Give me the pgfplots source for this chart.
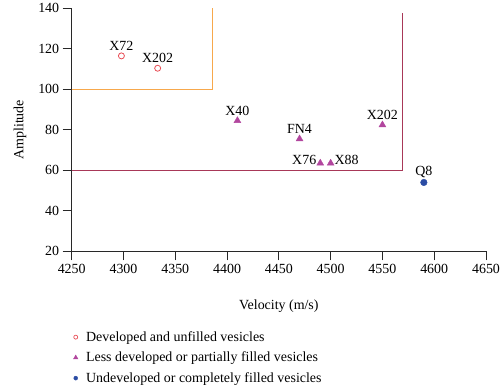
\documentclass[border=0pt]{standalone}
\usepackage{pgfplots}
\pgfplotsset{compat=1.18}
\usepackage{fontspec}
\setmainfont{Liberation Serif}
\definecolor{cred}{RGB}{232,76,84}
\definecolor{corange}{RGB}{247,168,76}
\definecolor{cmag}{RGB}{178,70,158}
\definecolor{cmaroon}{RGB}{168,56,88}
\definecolor{cblue}{RGB}{43,76,164}
\definecolor{caxis}{RGB}{40,40,40}
\begin{document}
\begin{tikzpicture}[font=\fontsize{14}{16.8}\selectfont]
\path[use as bounding box] (-71.7bp,-136.7bp) rectangle (428.3bp,251.3bp);
\begin{axis}[
  at={(0,0)}, anchor=south west,
  scale only axis, width=414.3bp, height=243bp,
  xmin=4250, xmax=4650, ymin=20, ymax=140,
  xtick={4250,4300,...,4650}, ytick={20,40,...,140},
  axis x line=bottom, axis y line=left,
  axis line style={-, line width=0.8bp, color=caxis},
  tick style={line width=0.8bp, color=caxis},
  tick align=outside, major tick length=9bp,
  /pgf/number format/assume math mode=true,
  /pgf/number format/1000 sep={},
  xlabel={Velocity (m/s)}, ylabel={Amplitude},
  xlabel style={at={(axis description cs:0.5,-0.2239)}, anchor=center},
  ylabel style={at={(axis description cs:-0.1248,0.5)}, anchor=center},
  clip=false,
  legend style={at={(axis description cs:0,0)}, anchor=north west, yshift=-76bp, xshift=-2.5bp,
    draw=none, fill=none, row sep=5.2bp, font=\fontsize{14}{16.8}\selectfont},
  legend cell align=left,
  legend image code/.code={\draw[#1] plot coordinates {(0bp,0bp)}; \path (-3bp,0bp) (8bp,0bp);},
]
\addplot[corange, line width=0.9bp, forget plot] coordinates {(4250,100) (4385.5,100) (4385.5,140)};
\addplot[cmaroon, line width=0.9bp, forget plot] coordinates {(4250,60) (4569.5,60) (4569.5,137.8)};
\addplot[forget plot, only marks, mark=o, mark size=3bp, cred, line width=0.8bp,
  nodes near coords, point meta=explicit symbolic,
  every node near coord/.append style={anchor=south, yshift=1.5bp, text=black}]
  table[meta=label] {
x y label
4298 116.5 X72
4333 110.4 X202
};
\addplot[forget plot, only marks, mark=triangle*, mark size=4bp, cmag,
  nodes near coords, point meta=explicit symbolic,
  every node near coord/.append style={anchor=south, yshift=1.5bp, text=black}]
  table[meta=label] {
x y label
4410 84.5 X40
4470 75.5 FN4
4550 82.4 X202
};
\addplot[forget plot, only marks, mark=triangle*, mark size=4bp, cmag,
  nodes near coords, point meta=explicit symbolic,
  every node near coord/.append style={anchor=east, yshift=3bp, xshift=-0.5bp, text=black}]
  table[meta=label] {
x y label
4490 63.5 X76
};
\addplot[forget plot, only marks, mark=triangle*, mark size=4bp, cmag,
  nodes near coords, point meta=explicit symbolic,
  every node near coord/.append style={anchor=west, yshift=3bp, xshift=0.5bp, text=black}]
  table[meta=label] {
x y label
4500 63.5 X88
};
\addplot[forget plot, only marks, mark=*, mark size=3.3bp, cblue,
  nodes near coords, point meta=explicit symbolic,
  every node near coord/.append style={anchor=south, yshift=1.5bp, text=black}]
  table[meta=label] {
x y label
4590 54 Q8
};
\addlegendimage{only marks, mark=o, mark size=2bp, cred, line width=0.7bp}
\addlegendentry{Developed and unfilled vesicles}
\addlegendimage{only marks, mark=triangle*, mark size=2.6bp, cmag}
\addlegendentry{Less developed or partially filled vesicles}
\addlegendimage{only marks, mark=*, mark size=2bp, cblue}
\addlegendentry{Undeveloped or completely filled vesicles}
\end{axis}
\end{tikzpicture}
\end{document}
